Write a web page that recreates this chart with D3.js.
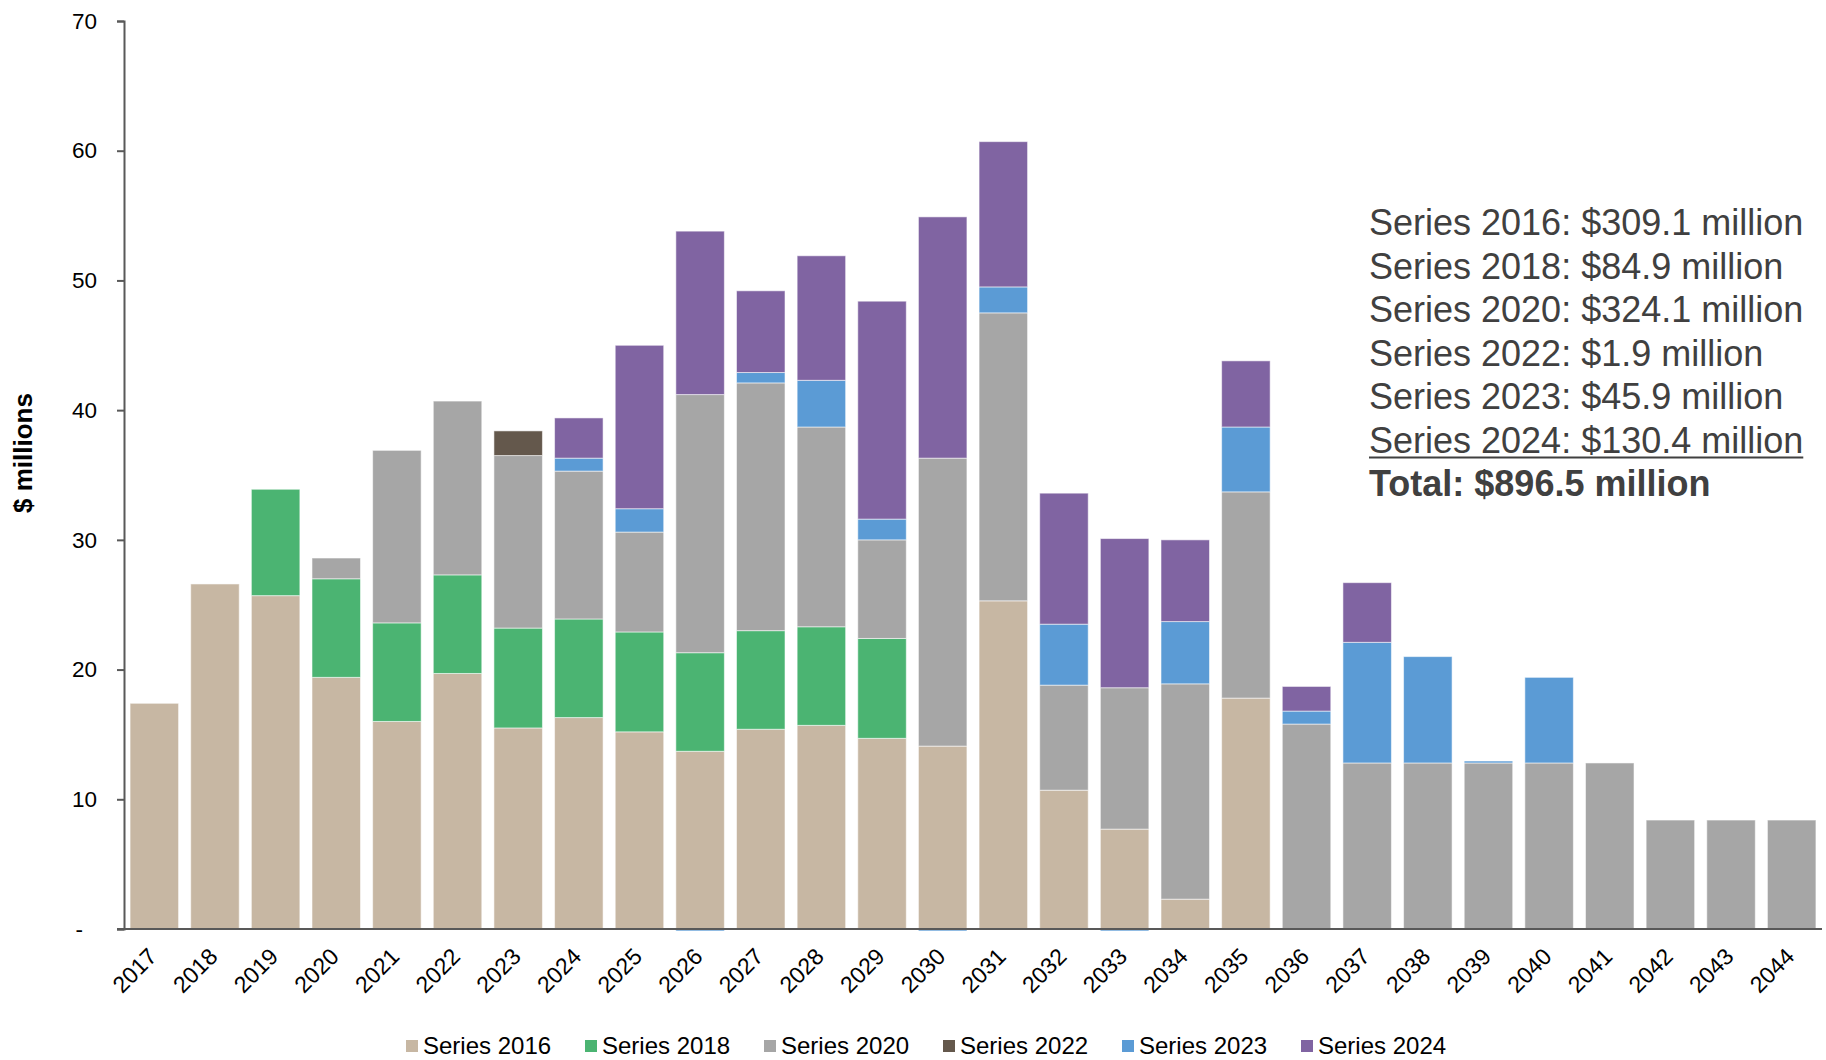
<!DOCTYPE html>
<html>
<head>
<meta charset="utf-8">
<script src="https://cdn.jsdelivr.net/npm/d3@7"></script>
<style>
  body { margin: 0; background: #fff; }
  svg { display: block; font-family: "Liberation Sans", Arial, sans-serif; }
</style>
</head>
<body>
<svg id="chart" width="1826" height="1060"></svg>
<script>
// data ($ millions)
let years = ['2017', '2018', '2019', '2020', '2021', '2022', '2023', '2024', '2025', '2026',
  '2027', '2028', '2029', '2030', '2031', '2032', '2033', '2034', '2035', '2036',
  '2037', '2038', '2039', '2040', '2041', '2042', '2043', '2044']
let seriesNames = ['Series 2016', 'Series 2018', 'Series 2020', 'Series 2022', 'Series 2023', 'Series 2024']
let colors = ['#C7B7A3', '#4BB472', '#A6A6A6', '#64584C', '#5B9BD5', '#8064A2']

let s2016 = [17.4, 26.6, 25.7, 19.4, 16.0, 19.7, 15.5, 16.3, 15.2, 13.7, 15.4, 15.7, 14.7, 14.1, 25.3, 10.7, 7.7, 2.3, 17.8, 0, 0, 0, 0, 0, 0, 0, 0, 0]
let s2018 = [0, 0, 8.2, 7.6, 7.6, 7.6, 7.7, 7.6, 7.7, 7.6, 7.6, 7.6, 7.7, 0, 0, 0, 0, 0, 0, 0, 0, 0, 0, 0, 0, 0, 0, 0]
let s2020 = [0, 0, 0, 1.6, 13.3, 13.4, 13.3, 11.4, 7.7, 19.9, 19.1, 15.4, 7.6, 22.2, 22.2, 8.1, 10.9, 16.6, 15.9, 15.8, 12.8, 12.8, 12.8, 12.8, 12.8, 8.4, 8.4, 8.4]
let s2022 = [0, 0, 0, 0, 0, 0, 1.9, 0, 0, 0, 0, 0, 0, 0, 0, 0, 0, 0, 0, 0, 0, 0, 0, 0, 0, 0, 0, 0]
let s2023 = [0, 0, 0, 0, 0, 0, 0, 1.0, 1.8, -0.15, 0.8, 3.6, 1.6, -0.15, 2.0, 4.7, -0.15, 4.8, 5.0, 1.0, 9.3, 8.2, 0.15, 6.6, 0, 0, 0, 0]
let s2024 = [0, 0, 0, 0, 0, 0, 0, 3.1, 12.6, 12.6, 6.3, 9.6, 16.8, 18.6, 11.2, 10.1, 11.5, 6.3, 5.1, 1.9, 4.6, 0, 0, 0, 0, 0, 0, 0]
let yTicks = [0, 10, 20, 30, 40, 50, 60, 70]

let notes = ['Series 2016: $309.1 million', 'Series 2018: $84.9 million', 'Series 2020: $324.1 million',
  'Series 2022: $1.9 million', 'Series 2023: $45.9 million', 'Series 2024: $130.4 million']
let totalNote = 'Total: $896.5 million'

let allSeries = [s2016, s2018, s2020, s2022, s2023, s2024]
let table = years.map((yr, i) => {
  let row = { year: yr }
  seriesNames.forEach((name, k) => { row[name] = allSeries[k][i] })
  return row
})

let svg = d3.select('#chart')
let marge = { left: 124, right: 1822, top: 21, bottom: 929 }

let x = d3.scaleBand()
  .domain(years)
  .range([marge.left, marge.right])
  .paddingInner(0.2)
  .paddingOuter(0.1)

let y = d3.scaleLinear()
  .domain([0, 70])
  .range([marge.bottom, marge.top])

let color = d3.scaleOrdinal().domain(seriesNames).range(colors)

let stacked = d3.stack()
  .keys(seriesNames)
  .offset(d3.stackOffsetDiverging)(table)

// stacked bars
svg.append('g')
  .selectAll('g')
  .data(stacked)
  .join('g')
  .attr('fill', d => color(d.key))
  .selectAll('rect')
  .data(d => d.filter(p => p[1] - p[0] !== 0))
  .join('rect')
  .attr('x', d => x(d.data.year))
  .attr('width', x.bandwidth())
  .attr('y', d => y(Math.max(d[0], d[1])))
  .attr('height', d => Math.abs(y(d[0]) - y(d[1])))
  .attr('stroke', 'rgba(255,255,255,0.55)')
  .attr('stroke-width', 1)

// y axis
let yAxis = d3.axisLeft(y)
  .tickValues(yTicks)
  .tickSize(7)
  .tickPadding(20)
  .tickFormat(d => d === 0 ? '-' : d)

let yg = svg.append('g')
  .attr('transform', `translate(${marge.left},0)`)
  .call(yAxis)
yg.select('.domain').attr('stroke', '#595959').attr('stroke-width', 2)
yg.selectAll('.tick line').attr('stroke', '#595959').attr('stroke-width', 2)
yg.selectAll('.tick text')
  .attr('font-size', 22.5)
  .attr('font-family', '"Liberation Sans", Arial, sans-serif')
  .attr('fill', '#000')
yg.selectAll('.tick text').filter(d => d === 0).attr('dx', -14)

// x axis baseline
svg.append('line')
  .attr('x1', marge.left - 7)
  .attr('x2', marge.right)
  .attr('y1', y(0))
  .attr('y2', y(0))
  .attr('stroke', '#595959')
  .attr('stroke-width', 2)

// year labels, rotated
svg.append('g')
  .selectAll('text')
  .data(years)
  .join('text')
  .attr('transform', d => `translate(${x(d) + x.bandwidth() / 2 + 4},${y(0) + 29}) rotate(-45)`)
  .attr('text-anchor', 'end')
  .attr('font-size', 23)
  .attr('fill', '#000')
  .text(d => d)

// y title
svg.append('text')
  .attr('transform', 'translate(32,453) rotate(-90)')
  .attr('text-anchor', 'middle')
  .attr('font-size', 26)
  .attr('font-weight', 'bold')
  .attr('fill', '#000')
  .text('$ millions')

// annotation block
let noteG = svg.append('g').attr('transform', 'translate(1369,235)')
noteG.selectAll('text')
  .data(notes)
  .join('text')
  .attr('y', (d, i) => i * 43.5)
  .attr('font-size', 36)
  .attr('fill', '#404040')
  .text(d => d)

let lastNote = noteG.selectAll('text').filter((d, i) => i === notes.length - 1)
let lastW = lastNote.node().getComputedTextLength()
noteG.append('line')
  .attr('x1', 0)
  .attr('x2', lastW)
  .attr('y1', (notes.length - 1) * 43.5 + 5)
  .attr('y2', (notes.length - 1) * 43.5 + 5)
  .attr('stroke', '#404040')
  .attr('stroke-width', 2)

noteG.append('text')
  .attr('y', notes.length * 43.5)
  .attr('font-size', 36)
  .attr('font-weight', 'bold')
  .attr('fill', '#404040')
  .text(totalNote)

// legend
let legend = svg.append('g')
  .selectAll('g')
  .data(seriesNames)
  .join('g')
  .attr('transform', (d, i) => `translate(${406 + i * 179},1046)`)

legend.append('rect')
  .attr('x', 0)
  .attr('y', -6)
  .attr('width', 12)
  .attr('height', 12)
  .attr('fill', d => color(d))

legend.append('text')
  .attr('x', 17)
  .attr('dy', '0.35em')
  .attr('font-size', 24)
  .attr('fill', '#000')
  .text(d => d)
</script>
</body>
</html>
